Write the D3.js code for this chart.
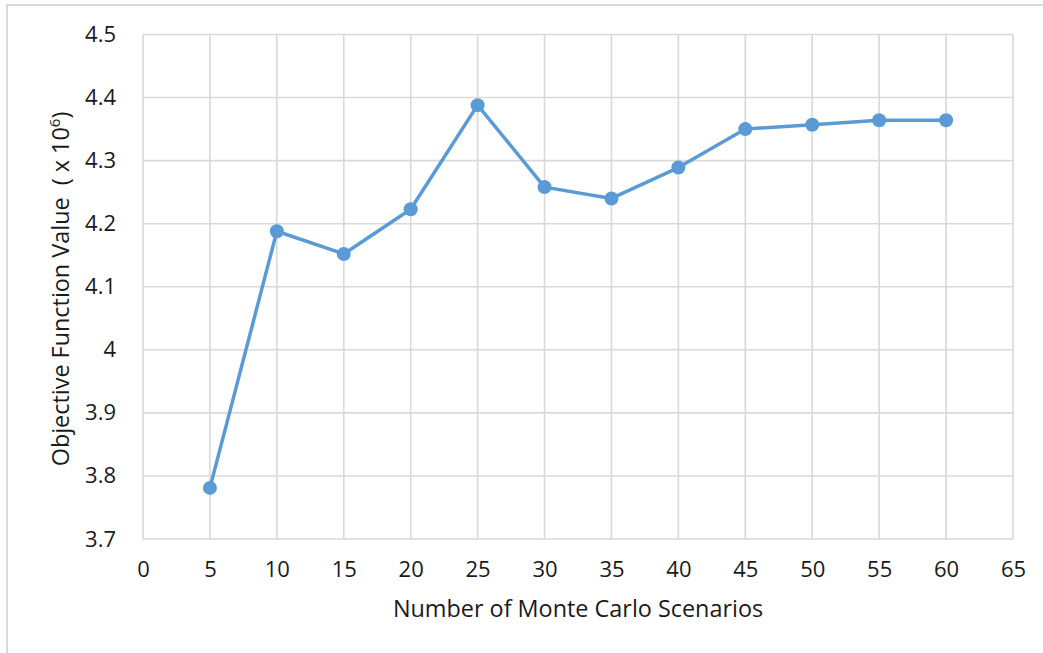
<!DOCTYPE html>
<html>
<head>
<meta charset="utf-8">
<script src="https://cdn.jsdelivr.net/npm/d3@7"></script>
<style>
  body { margin: 0; background: #fff; }
  text { font-family: "Open Sans", sans-serif; fill: #1a1a1a; }
</style>
</head>
<body>
<div id="chart"></div>
<script>
// data
const scenarios = [5, 10, 15, 20, 25, 30, 35, 40, 45, 50, 55, 60];
const objective = [3.781, 4.188, 4.152, 4.223, 4.388, 4.258, 4.240, 4.289, 4.350, 4.357, 4.364, 4.364];
const xTicks = [0, 5, 10, 15, 20, 25, 30, 35, 40, 45, 50, 55, 60, 65];
const yTicks = [3.7, 3.8, 3.9, 4.0, 4.1, 4.2, 4.3, 4.4, 4.5];

let width = 1043,
    height = 653,
    margin = {left: 143, right: 30, top: 34.5, bottom: 114},
    grid = "#d9d9d9",
    blue = "#5b9bd5";

let svg = d3.select("#chart")
    .append("svg")
    .attr("width", width)
    .attr("height", height);

// outer chart frame (only top and left are visible)
svg.append("path")
    .attr("d", "M7,653 V5 H1043")
    .attr("fill", "none")
    .attr("stroke", grid)
    .attr("stroke-width", 2);

let x = d3.scaleLinear()
    .domain([0, 65])
    .range([margin.left, width - margin.right]);

let y = d3.scaleLinear()
    .domain([3.7, 4.5])
    .range([height - margin.bottom, margin.top]);

// gridlines
svg.append("g")
    .selectAll("line.h")
    .data(yTicks)
    .enter()
    .append("line")
    .attr("x1", x(0))
    .attr("x2", x(65))
    .attr("y1", d => y(d))
    .attr("y2", d => y(d))
    .attr("stroke", grid)
    .attr("stroke-width", 1.6);

svg.append("g")
    .selectAll("line.v")
    .data(xTicks)
    .enter()
    .append("line")
    .attr("x1", d => x(d))
    .attr("x2", d => x(d))
    .attr("y1", y(3.7))
    .attr("y2", y(4.5))
    .attr("stroke", grid)
    .attr("stroke-width", 1.6);

// axes (labels only, lines are the gridlines)
let xAxis = svg.append("g")
    .attr("transform", "translate(0," + y(3.7) + ")")
    .call(d3.axisBottom(x).tickValues(xTicks).tickSize(0).tickPadding(22).tickFormat(d3.format("d")));
xAxis.select(".domain").remove();
xAxis.selectAll("text").style("font-size", "22px").style("font-family", "'Open Sans', sans-serif").attr("fill", "#1a1a1a");

let yAxis = svg.append("g")
    .attr("transform", "translate(" + x(0) + ",0)")
    .call(d3.axisLeft(y).tickValues(yTicks).tickSize(0).tickPadding(27)
        .tickFormat(d => d === 4 ? "4" : d3.format(".1f")(d)));
yAxis.select(".domain").remove();
yAxis.selectAll("text").style("font-size", "22px").style("font-family", "'Open Sans', sans-serif").attr("fill", "#1a1a1a");

// series
let data = scenarios.map((s, i) => ({x: s, y: objective[i]}));

svg.append("path")
    .datum(data)
    .attr("fill", "none")
    .attr("stroke", blue)
    .attr("stroke-width", 3.5)
    .attr("stroke-linejoin", "round")
    .attr("d", d3.line().x(d => x(d.x)).y(d => y(d.y)));

svg.append("g")
    .selectAll("circle")
    .data(data)
    .enter()
    .append("circle")
    .attr("cx", d => x(d.x))
    .attr("cy", d => y(d.y))
    .attr("r", 7)
    .attr("fill", blue);

// axis titles
svg.append("text")
    .attr("x", (x(0) + x(65)) / 2)
    .attr("y", 617)
    .attr("text-anchor", "middle")
    .style("font-size", "23.4px")
    .text("Number of Monte Carlo Scenarios");

let yTitle = svg.append("text")
    .attr("transform", "translate(69," + 289 + ") rotate(-90)")
    .attr("text-anchor", "middle")
    .style("white-space", "pre")
    .style("font-size", "23.4px");
yTitle.append("tspan").text("Objective Function Value  ( x 10");
yTitle.append("tspan").attr("dy", -9).style("font-size", "15px").text("6");
yTitle.append("tspan").attr("dy", 9).text(")");
</script>
</body>
</html>
